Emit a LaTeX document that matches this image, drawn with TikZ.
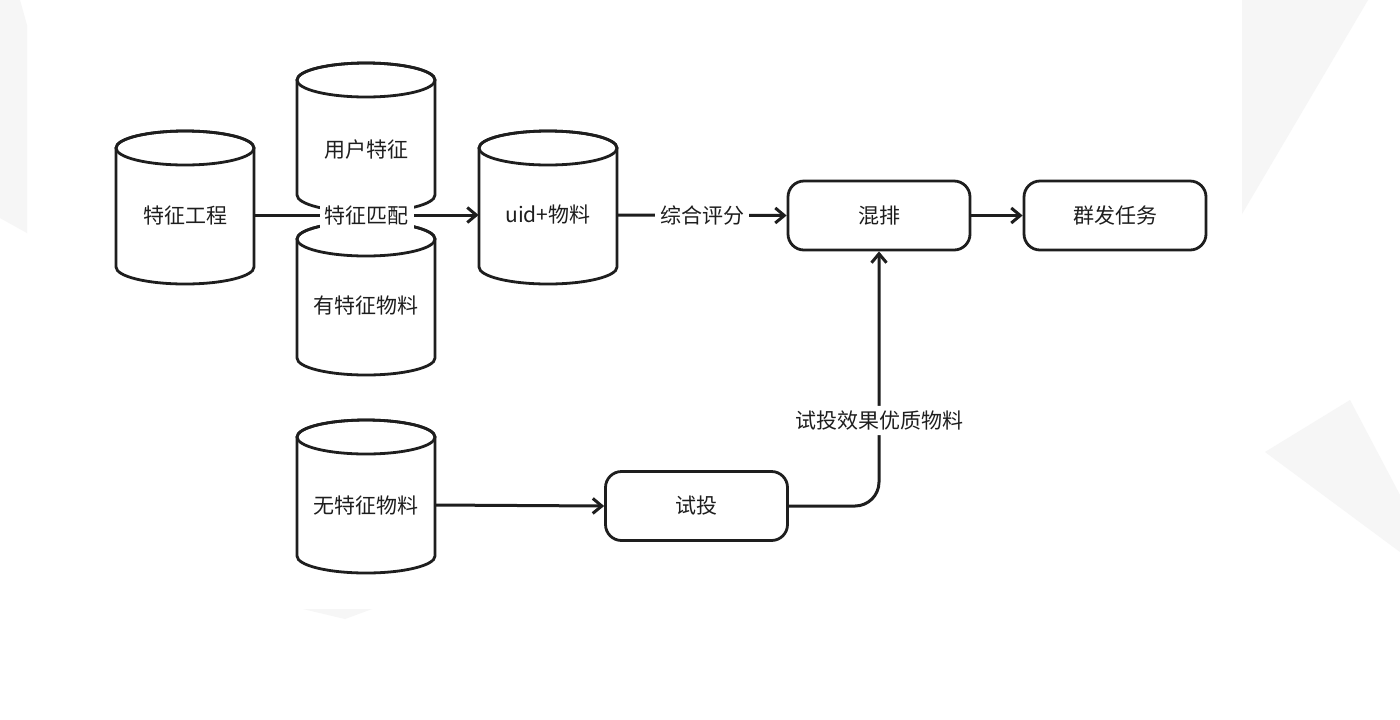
\documentclass[tikz,border=0pt]{standalone}
\usepackage{fontspec}
\setmainfont{Noto Sans CJK SC}
\usetikzlibrary{arrows.meta}
\definecolor{wm}{HTML}{F6F6F6}
\definecolor{ink}{HTML}{1E1E1E}
\tikzset{
  txt/.style={font=\fontsize{10.5pt}{12pt}\selectfont, text=ink},
  lbl/.style={txt, fill=white, inner sep=2.5pt},
  cylbody/.style={draw=ink, line width=1.4pt, fill=white},
  box/.style={txt, draw=ink, line width=1.4pt, rounded corners=8pt, minimum width=91pt, minimum height=34.5pt, fill=white},
  arr/.style={draw=ink, line width=1.5pt, -{Straight Barb[length=4.5pt,width=7.5pt]}},
  conn/.style={draw=ink, line width=1.5pt}
}
% #1 name, #2 cx, #3 top, #4 bottom, #5 text y, #6 text
\newcommand\dbcyl[6]{%
  \path[cylbody] (#2-69,#3+17) -- (#2-69,#4-17)
     arc[start angle=180,end angle=360,x radius=34.5pt,y radius=8.5pt]
     -- (#2+69,#3+17)
     arc[start angle=0,end angle=180,x radius=34.5pt,y radius=8.5pt] -- cycle;
  \draw[draw=ink, line width=1.4pt] (#2,#3+17) ellipse[x radius=34.5pt, y radius=8.5pt];
  \node[txt, minimum width=69pt, inner sep=0pt] (#1) at (#2,#5) {#6};
}
\begin{document}
\begin{tikzpicture}[x=0.5pt,y=-0.5pt]
  \useasboundingbox (0,0) rectangle (1400,719);
  \fill[white] (0,0) rectangle (1400,719);
  % faint background watermark shapes
  \fill[wm] (1242,0) -- (1368,0) -- (1242,214) -- cycle;
  \fill[wm] (1265,452) -- (1350,400) -- (1400,495) -- (1400,552) -- cycle;
  \fill[wm] (0,0) -- (20,0) -- (27,25) -- (27,233) -- (0,218) -- cycle;
  \fill[wm] (303,609) -- (372,609) -- (345,619) -- cycle;

  % cylinders
  \dbcyl{fe}{185}{131}{284}{215}{特征工程}
  \dbcyl{uf}{366}{63}{212}{150}{用户特征}
  \dbcyl{hm}{366}{222}{375}{305}{有特征物料}
  \dbcyl{uid}{548}{131}{284}{215}{uid+物料}
  \dbcyl{nf}{366}{420}{573}{505}{无特征物料}

  % boxes
  \node[box] (mix) at (879,215.5) {混排};
  \node[box] (qf) at (1115,215.5) {群发任务};
  \node[box] (st) at (696.5,506) {试投};

  % connectors
  \draw[arr] (fe.east) -- (uid.west) node[midway, lbl] {特征匹配};
  \draw[arr] (uid.east) -- (mix.west) node[midway, lbl] {综合评分};
  \draw[arr] (mix.east) -- (qf.west);
  \draw[arr] (nf.east) -- (st.west);
  \draw[arr, rounded corners=12pt] (st.east) -| (mix.south) node[pos=0.668, lbl] {试投效果优质物料};
\end{tikzpicture}
\end{document}
